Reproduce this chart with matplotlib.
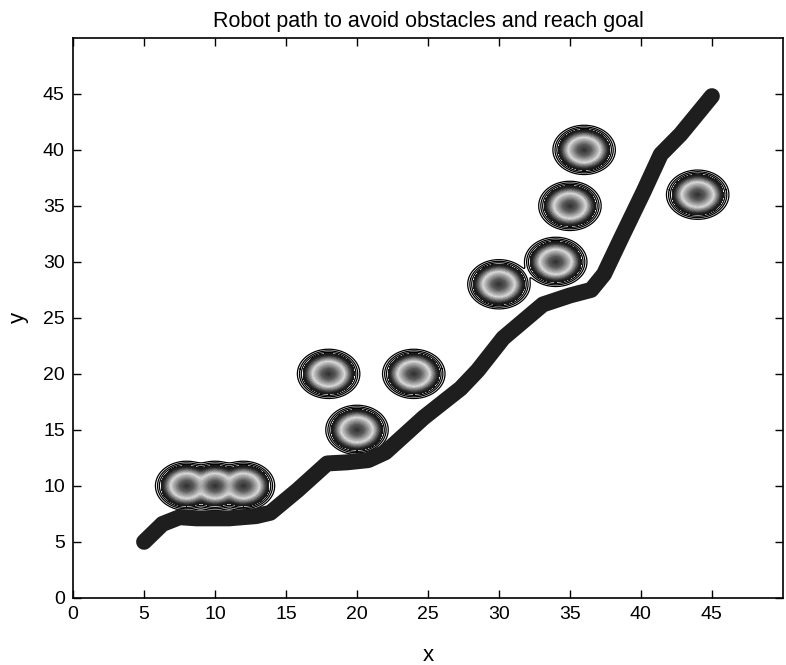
import numpy as np
import matplotlib.pyplot as plt
from matplotlib.colors import LinearSegmentedColormap

# obstacle centres (potential field sources)
obstacle_x = [8, 10, 12, 18, 20, 24, 30, 34, 35, 36, 44]
obstacle_y = [10, 10, 10, 20, 15, 20, 28, 30, 35, 40, 36]

# robot path
path_x = [5.0, 6.3, 7.5, 8.7, 11.0, 12.9, 13.9, 15.8, 17.9, 19.3, 20.8, 22.0, 24.7,
          27.3, 28.5, 30.3, 31.7, 33.1, 35.0, 36.5, 37.4, 38.6, 40.2, 41.4, 42.8, 45.0]
path_y = [5.0, 6.6, 7.2, 7.1, 7.1, 7.3, 7.6, 9.6, 12.0, 12.1, 12.3, 13.0, 16.1,
          18.7, 20.3, 23.2, 24.7, 26.2, 27.0, 27.5, 28.9, 32.1, 36.3, 39.6, 41.4, 44.8]

ticks = [0, 5, 10, 15, 20, 25, 30, 35, 40, 45]

plt.rcParams['font.family'] = ['Liberation Sans', 'DejaVu Sans']

fig = plt.figure(figsize=(7.86, 6.65), dpi=100)
ax = fig.add_axes([0.093, 0.101, 0.903, 0.842])

# distance field around the obstacles (soft minimum so neighbours merge smoothly)
gx, gy = np.meshgrid(np.linspace(0, 50, 1001), np.linspace(0, 50, 1001))
d = np.stack([np.hypot(gx - ox, gy - oy) for ox, oy in zip(obstacle_x, obstacle_y)])
k = 0.12
dmin = d.min(axis=0)
dist = dmin - k * np.log(np.exp(-(d - dmin) / k).sum(axis=0))

shade = LinearSegmentedColormap.from_list(
    'shade', [(0.0, '#2a2a2a'), (0.3, '#5a5a5a'), (0.65, '#d8d8d8'),
              (0.8, '#7a7a7a'), (0.92, '#303030'), (1.0, '#181818')])
ax.contourf(gx, gy, dist, levels=np.linspace(0, 1.8, 45), cmap=shade, zorder=1)
ax.contour(gx, gy, dist, levels=[1.92, 2.05, 2.2], colors='k', linewidths=0.9, zorder=1)

# path
ax.plot(path_x, path_y, color='#1e1e1e', lw=11.5, solid_capstyle='round',
        solid_joinstyle='round', zorder=3)

ax.set_xlim(0, 50)
ax.set_ylim(0, 50)
ax.set_xticks(ticks)
ax.set_yticks(ticks)
ax.tick_params(direction='in', top=True, right=True, length=6, width=1,
               labelsize=14, pad=6)
for s in ax.spines.values():
    s.set_linewidth(1.2)

ax.set_title("Robot path to avoid obstacles and reach goal", fontsize=15.5, pad=8)
ax.set_xlabel("x", fontsize=16, labelpad=16)
ax.set_ylabel("y", fontsize=16, labelpad=10)

fig.savefig("out.png", dpi=100)
